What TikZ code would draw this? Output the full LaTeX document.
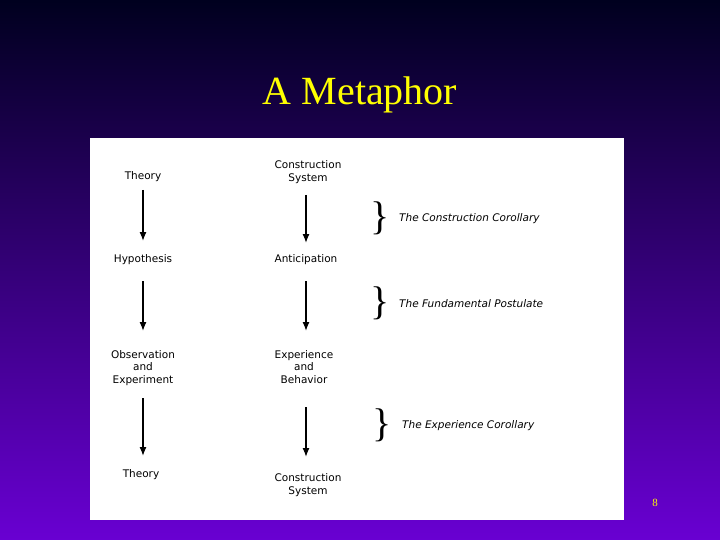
\documentclass[tikz,border=0pt]{standalone}
\usepackage{fontspec}
\usetikzlibrary{arrows.meta}
\setmainfont{DejaVu Sans}
\newfontfamily\titlefont{Liberation Serif}
\begin{document}
\begin{tikzpicture}[x=1pt,y=-1pt,
  lbl/.style={font=\fontsize{10.5}{12.5}\selectfont,align=center,inner sep=0pt},
  rule/.style={font=\fontsize{10.5}{12}\selectfont\itshape,anchor=west,inner sep=0pt},
  brc/.style={font=\titlefont\fontsize{40}{40}\selectfont,inner sep=0pt},
  arr/.style={-{Latex[length=9pt,width=7pt]},line width=1.3pt}]
\useasboundingbox (0,0) rectangle (720,540);
\shade[top color=black!80!blue!60!black, bottom color={rgb,255:red,105;green,0;blue,210}] (0,0) rectangle (720,540);
\fill[white] (90,138) rectangle (624,520);
\node[font=\titlefont\fontsize{40}{40}\selectfont,text={rgb,255:red,255;green,255;blue,0}] (title) at (360,95) {A Metaphor};
\node[font=\titlefont\fontsize{11}{11}\selectfont,text={rgb,255:red,255;green,255;blue,0}] (pg) at (655,503) {8};
% left column
\node[lbl] (t1) at (143,177) {Theory};
\node[lbl] (h) at (143,260) {Hypothesis};
\node[lbl] (oe) at (143,368) {Observation\\and\\Experiment};
\node[lbl] (t2) at (141,475) {Theory};
% right column
\node[lbl] (cs1) at (308,172) {Construction\\System};
\node[lbl] (an) at (306,260) {Anticipation};
\node[lbl] (eb) at (304,367) {Experience\\and\\Behavior};
\node[lbl] (cs2) at (308,485) {Construction\\System};
% arrows
\coordinate (a1s) at (143,190); \coordinate (a1e) at (143,241);
\coordinate (a2s) at (143,281); \coordinate (a2e) at (143,331);
\coordinate (a3s) at (143,398); \coordinate (a3e) at (143,456);
\coordinate (b1s) at (306,195); \coordinate (b1e) at (306,243);
\coordinate (b2s) at (306,281); \coordinate (b2e) at (306,331);
\coordinate (b3s) at (306,407); \coordinate (b3e) at (306,457);
\draw[arr] (a1s) -- (a1e); \draw[arr] (a2s) -- (a2e); \draw[arr] (a3s) -- (a3e);
\draw[arr] (b1s) -- (b1e); \draw[arr] (b2s) -- (b2e); \draw[arr] (b3s) -- (b3e);
% braces and rules
\node[brc] (br1) at (380,218) {\}};
\node[brc] (br2) at (380,303) {\}};
\node[brc] (br3) at (382,425) {\}};
\node[rule] (r1) at (399,219) {The Construction Corollary};
\node[rule] (r2) at (399,304) {The Fundamental Postulate};
\node[rule] (r3) at (402,426) {The Experience Corollary};
\end{tikzpicture}
\end{document}
